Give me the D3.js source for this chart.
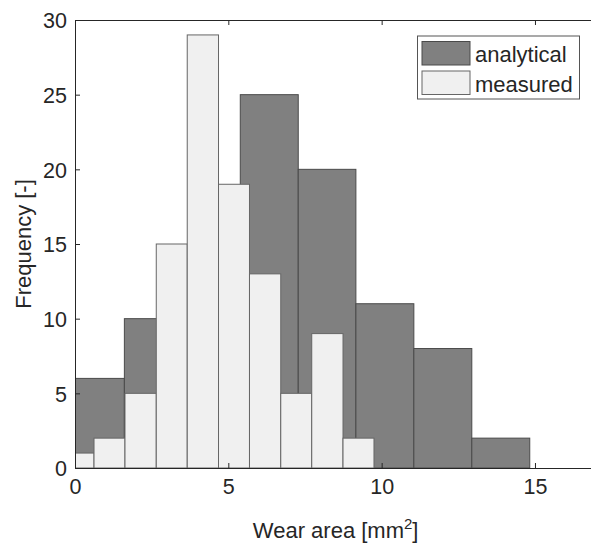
<!DOCTYPE html>
<html>
<head>
<meta charset="utf-8">
<script src="https://cdn.jsdelivr.net/npm/d3@7"></script>
<style>
  body { margin: 0; background: #fff; }
  text { font-family: "Liberation Sans", Arial, sans-serif; fill: #262626; }
</style>
</head>
<body>
<svg width="591" height="544"></svg>
<script>
// histogram bin edges and counts
var analyticalEdges = [-0.28, 1.61, 3.50, 5.39, 7.28, 9.16, 11.05, 12.94, 14.83]
var analyticalCounts = [6, 10, 14, 25, 20, 11, 8, 2]
var measuredEdges = [-0.39, 0.62, 1.63, 2.65, 3.66, 4.68, 5.69, 6.71, 7.72, 8.74, 9.75]
var measuredCounts = [1, 2, 5, 15, 29, 19, 13, 5, 9, 2]
var xTicks = [0, 5, 10, 15]
var yTicks = [0, 5, 10, 15, 20, 25, 30]
var seriesNames = ["analytical", "measured"]

var svg = d3.select("svg")

var margin = {top: 20, left: 75, bottom: 468, right: 596.3}

var x = d3.scaleLinear().domain([0, 17]).range([margin.left, margin.right])
var y = d3.scaleLinear().domain([0, 30]).range([margin.bottom, margin.top])

svg.append("clipPath").attr("id", "plotclip")
    .append("rect")
    .attr("x", margin.left).attr("y", margin.top)
    .attr("width", margin.right - margin.left)
    .attr("height", margin.bottom - margin.top)

var plot = svg.append("g").attr("clip-path", "url(#plotclip)")

function makeBins(edges, counts) {
    return counts.map((c, i) => ({x0: edges[i], x1: edges[i + 1], n: c}))
}

//dark series first, light one on top
plot.selectAll("rect.ana")
    .data(makeBins(analyticalEdges, analyticalCounts))
    .enter().append("rect")
    .attr("class", "ana")
    .attr("x", d => x(d.x0))
    .attr("width", d => x(d.x1) - x(d.x0))
    .attr("y", d => y(d.n))
    .attr("height", d => y(0) - y(d.n))
    .attr("fill", "#808080")
    .attr("stroke", "#4a4a4a")

plot.selectAll("rect.mea")
    .data(makeBins(measuredEdges, measuredCounts))
    .enter().append("rect")
    .attr("class", "mea")
    .attr("x", d => x(d.x0))
    .attr("width", d => x(d.x1) - x(d.x0))
    .attr("y", d => y(d.n))
    .attr("height", d => y(0) - y(d.n))
    .attr("fill", "#f0f0f0")
    .attr("stroke", "#666")

// axes (matlab style, ticks inside)
var axisColor = "#262626"
var bottomAxis = svg.append("g")
    .attr("transform", `translate(0, ${margin.bottom})`)
    .call(d3.axisBottom(x).tickValues(xTicks).tickSizeInner(-5).tickSizeOuter(0).tickPadding(11))
var leftAxis = svg.append("g")
    .attr("transform", `translate(${margin.left}, 0)`)
    .call(d3.axisLeft(y).tickValues(yTicks).tickSizeInner(-5).tickSizeOuter(0).tickPadding(8))
var topAxis = svg.append("g")
    .attr("transform", `translate(0, ${margin.top})`)
    .call(d3.axisTop(x).tickValues(xTicks).tickSizeInner(-5).tickSizeOuter(0).tickFormat(""))

;[bottomAxis, leftAxis, topAxis].forEach(g => {
    g.select(".domain").attr("stroke", axisColor)
    g.selectAll(".tick line").attr("stroke", axisColor)
    g.selectAll("text").attr("font-size", 21.5).attr("fill", axisColor)
        .style("font-family", "'Liberation Sans', Arial, sans-serif")
})
leftAxis.selectAll(".tick text").attr("dy", "0.36em")
topAxis.selectAll(".tick").filter(d => d === 0).remove()

// labels
var xl = svg.append("text")
    .attr("x", (margin.left + margin.right) / 2)
    .attr("y", 538)
    .attr("text-anchor", "middle")
    .attr("font-size", 22)
xl.append("tspan").text("Wear area [mm")
xl.append("tspan").text("2").attr("font-size", 15).attr("dy", -9)
xl.append("tspan").text("]").attr("dy", 9)

svg.append("text")
    .attr("transform", `translate(31, ${(margin.top + margin.bottom) / 2}) rotate(-90)`)
    .attr("text-anchor", "middle")
    .attr("font-size", 22)
    .text("Frequency [-]")

// legend
var legend = svg.append("g")
legend.append("rect")
    .attr("x", 417.5).attr("y", 36)
    .attr("width", 162).attr("height", 63)
    .attr("fill", "#fff").attr("stroke", "#555")
var legendFill = ["#808080", "#f0f0f0"]
var legendStroke = ["#4a4a4a", "#666"]
seriesNames.forEach((name, i) => {
    legend.append("rect")
        .attr("x", 422).attr("y", 41.5 + i * 29.5)
        .attr("width", 48).attr("height", 23.5)
        .attr("fill", legendFill[i]).attr("stroke", legendStroke[i])
    legend.append("text")
        .attr("x", 475).attr("y", 62 + i * 29.5)
        .attr("font-size", 22)
        .text(name)
})
</script>
</body>
</html>
